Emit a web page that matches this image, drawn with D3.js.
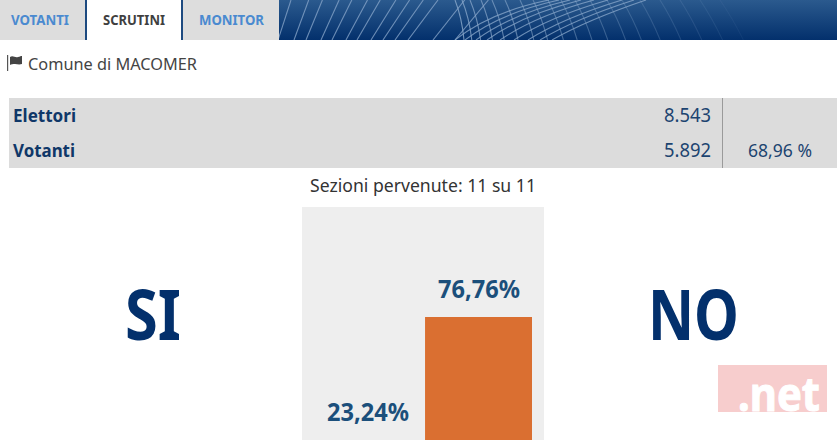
<!DOCTYPE html>
<html>
<head>
<meta charset="utf-8">
<script src="https://cdnjs.cloudflare.com/ajax/libs/d3/7.8.5/d3.min.js"></script>
<style>
html, body { margin: 0; padding: 0; background: #fff; overflow: hidden; }
svg { display: block; }
text { font-family: "Noto Sans", sans-serif; }
</style>
</head>
<body>
<div id="chart"></div>
<script>
// chart values
var categories = ["SI", "NO"];
var percentages = [23.24, 76.76];
var percentLabels = ["23,24%", "76,76%"];
var tabs = ["VOTANTI", "SCRUTINI", "MONITOR"];
var tableRows = ["Elettori", "Votanti"];
var tableValues = ["8.543", "5.892"];
var tablePercents = ["", "68,96 %"];

var width = 837, height = 440;

var svg = d3.select("#chart").append("svg")
    .attr("width", width)
    .attr("height", height);

// squeeze a text to the width it has in the original narrower font
function fit(sel, w) {
    return sel.attr("textLength", w).attr("lengthAdjust", "spacingAndGlyphs");
}

// header banner
var defs = svg.append("defs");
var grad = defs.append("linearGradient")
    .attr("id", "banner")
    .attr("x1", 0).attr("y1", 0).attr("x2", 0).attr("y2", 1);
grad.append("stop").attr("offset", "0%").attr("stop-color", "#2b5a8e");
grad.append("stop").attr("offset", "100%").attr("stop-color", "#03306c");
defs.append("clipPath").attr("id", "bannerClip")
    .append("rect").attr("x", 279).attr("y", 0).attr("width", 558).attr("height", 40);

svg.append("rect").attr("x", 279).attr("y", 0).attr("width", 558).attr("height", 40)
    .attr("fill", "url(#banner)");

var lines = svg.append("g").attr("clip-path", "url(#bannerClip)").attr("fill", "none");

// fan of slanted lines on the left of the banner
[278, 294, 306, 321, 332, 346, 357, 371, 383, 395, 408, 433, 455].forEach(function (x, i) {
    var off = 13 + i * 1.7;
    lines.append("path")
        .attr("d", "M" + x + ",40 Q" + (x + off * 0.5) + ",20 " + (x + off) + ",0")
        .attr("stroke", "#86a4c8").attr("stroke-opacity", 0.8).attr("stroke-width", 1.1);
});
// lines sweeping up to the right, crossing the fan
[455, 465, 476, 487, 500, 514, 528, 540, 552].forEach(function (x, i) {
    lines.append("path")
        .attr("d", "M" + x + ",40 Q" + (x + 35) + "," + (12 + i) + " " + (x + 94) + ",0")
        .attr("stroke", "#8dabcd").attr("stroke-opacity", 0.75).attr("stroke-width", 1.1);
});
// near vertical lines bending right, fading out
[455, 462, 470, 481, 492, 505, 520, 533, 548, 561, 575, 590, 607, 622, 640, 660, 680, 700, 720].forEach(function (x, i) {
    lines.append("path")
        .attr("d", "M" + x + ",0 Q" + (x + 7 + i * 0.3) + ",18 " + (x + 9 + i * 0.8) + ",40")
        .attr("stroke", "#8dabcd")
        .attr("stroke-opacity", Math.max(0.08, 0.8 - i * 0.04))
        .attr("stroke-width", 1.1);
});

// tabs
var tabX = d3.scaleOrdinal().domain(tabs).range([0, 87, 183]);
var tabW = d3.scaleOrdinal().domain(tabs).range([85, 94, 96]);
var tabTextX = d3.scaleOrdinal().domain(tabs).range([11, 103, 199]);
var tabTextW = d3.scaleOrdinal().domain(tabs).range([58, 62, 65]);

svg.selectAll(".tab")
    .data(tabs)
    .enter()
    .append("rect")
    .attr("class", "tab")
    .attr("x", function (d) { return tabX(d); })
    .attr("y", 0)
    .attr("width", function (d) { return tabW(d); })
    .attr("height", 40)
    .attr("fill", function (d) { return d === "SCRUTINI" ? "#fff" : "#dddddd"; });

[85, 181].forEach(function (x) {
    svg.append("rect").attr("x", x).attr("y", 0).attr("width", 2).attr("height", 40).attr("fill", "#1d4a80");
});

svg.selectAll(".tabLabel")
    .data(tabs)
    .enter()
    .append("text")
    .attr("class", "tabLabel")
    .attr("x", function (d) { return tabTextX(d); })
    .attr("y", 25)
    .attr("textLength", function (d) { return tabTextW(d); })
    .attr("lengthAdjust", "spacingAndGlyphs")
    .attr("font-size", 13.5)
    .attr("font-weight", 700)
    .attr("fill", function (d) { return d === "SCRUTINI" ? "#3f3f3f" : "#4a8ad0"; })
    .text(function (d) { return d; });

// flag icon and municipality
svg.append("rect").attr("x", 7).attr("y", 55).attr("width", 1.2).attr("height", 16).attr("fill", "#555");
svg.append("path")
    .attr("d", "M10,57 C13,55 15,58 18,57 C20,56.5 21,56 22,56 L22,64 C19,65 17,64 15,64 C13,64 11,64 10,65 Z")
    .attr("fill", "#444");
fit(svg.append("text")
    .attr("x", 28).attr("y", 69.5)
    .attr("font-size", 17).attr("fill", "#444")
    .text("Comune di MACOMER"), 169);

// voters table
svg.append("rect").attr("x", 9).attr("y", 98).attr("width", 828).attr("height", 70).attr("fill", "#dcdcdc");
svg.append("rect").attr("x", 722).attr("y", 98).attr("width", 1).attr("height", 70).attr("fill", "#9a9a9a");

var rowY = d3.scaleBand().domain(tableRows).range([98, 168]);
var rowW = d3.scaleOrdinal().domain(tableRows).range([63, 62]);

tableRows.forEach(function (r, i) {
    var y = rowY(r) + rowY.bandwidth() / 2 + 6.5;
    fit(svg.append("text").attr("x", 13).attr("y", y)
        .attr("font-size", 18.5).attr("font-weight", 700).attr("fill", "#0f3768").text(r), rowW(r));
    fit(svg.append("text").attr("x", 664).attr("y", y)
        .attr("font-size", 19).attr("fill", "#1c4470").text(tableValues[i]), 47);
    if (tablePercents[i]) {
        fit(svg.append("text").attr("x", 748).attr("y", y)
            .attr("font-size", 18.5).attr("fill", "#1c4470").text(tablePercents[i]), 64);
    }
});

fit(svg.append("text")
    .attr("x", 310).attr("y", 192)
    .attr("font-size", 18).attr("fill", "#333")
    .text("Sezioni pervenute: 11 su 11"), 226);

// result panel
svg.append("rect").attr("x", 302).attr("y", 207).attr("width", 242).attr("height", 233).attr("fill", "#eeeeee");

var bigX = d3.scaleOrdinal().domain(categories).range([125, 648]);
var bigW = d3.scaleOrdinal().domain(categories).range([56, 91]);

svg.selectAll(".bigLabel")
    .data(categories)
    .enter()
    .append("text")
    .attr("class", "bigLabel")
    .attr("x", function (d) { return bigX(d); })
    .attr("y", 340)
    .attr("textLength", function (d) { return bigW(d); })
    .attr("lengthAdjust", "spacingAndGlyphs")
    .attr("font-size", 70)
    .attr("font-weight", 700)
    .attr("fill", "#03306c")
    .text(function (d) { return d; });

// the page is cut at the window bottom, so the bars run past it
var x = d3.scaleBand()
    .domain(categories)
    .range([314, 532])
    .paddingInner(0.0367);

var y = d3.scaleLinear()
    .domain([0, 100])
    .range([493.4, 263.6]);

svg.selectAll(".bar")
    .data(percentages)
    .enter()
    .append("rect")
    .attr("class", "bar")
    .attr("x", function (d, i) { return x(categories[i]); })
    .attr("y", function (d) { return y(d); })
    .attr("width", x.bandwidth())
    .attr("height", function (d) { return y(0) - y(d); })
    .attr("fill", "#da6f31");

svg.selectAll(".barLabel")
    .data(percentages)
    .enter()
    .append("text")
    .attr("class", "barLabel")
    .attr("x", function (d, i) { return x(categories[i]) + x.bandwidth() / 2 + 0.5; })
    .attr("y", function (d) { return y(d) - 19; })
    .attr("text-anchor", "middle")
    .attr("textLength", 82)
    .attr("lengthAdjust", "spacingAndGlyphs")
    .attr("font-size", 25)
    .attr("font-weight", 700)
    .attr("fill", "#1b4f7b")
    .text(function (d, i) { return percentLabels[i]; });

// watermark
svg.append("rect").attr("x", 718).attr("y", 365).attr("width", 109).attr("height", 47).attr("fill", "#f7cdcd");
fit(svg.append("text")
    .attr("x", 738).attr("y", 411)
    .attr("font-size", 46).attr("font-weight", 700)
    .attr("stroke", "#fff").attr("stroke-width", 1)
    .attr("fill", "#fff")
    .text(".net"), 82);
</script>
</body>
</html>
